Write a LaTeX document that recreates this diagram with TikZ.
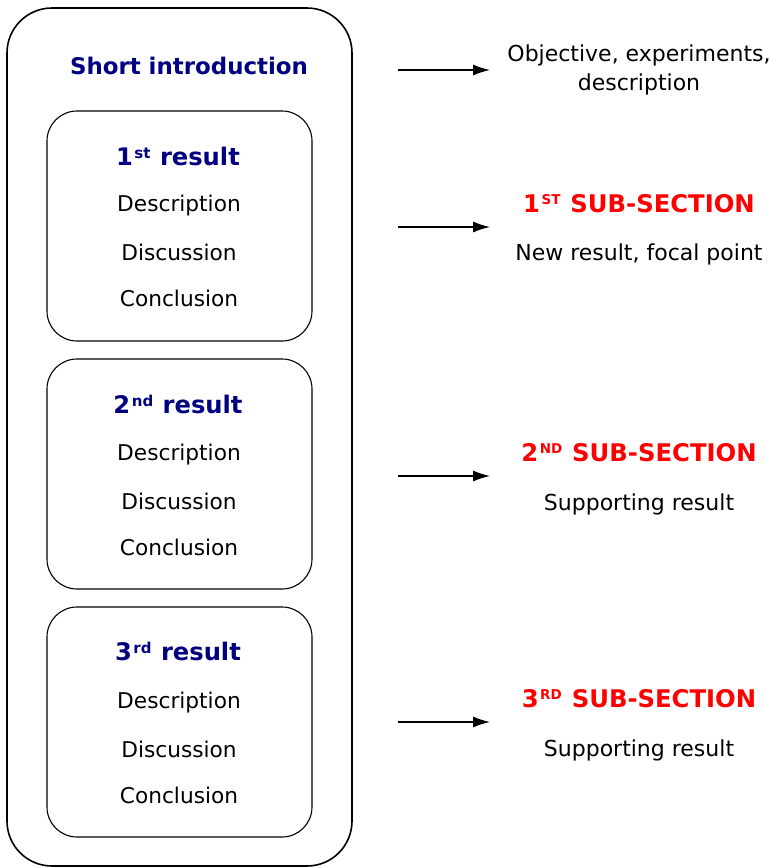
\documentclass[tikz,border=0pt]{standalone}
\usepackage{fontspec}
\setmainfont{DejaVu Sans}
\usetikzlibrary{arrows.meta}
\definecolor{navyt}{RGB}{0,0,128}
\definecolor{redt}{RGB}{255,0,0}
\newcommand{\supb}[1]{\hspace{1.5pt}\raisebox{6.3pt}{\fontsize{15}{15}\selectfont #1}\hspace{1pt}}
\newcommand{\supr}[1]{\hspace{1.5pt}\raisebox{8.2pt}{\fontsize{13.5}{13.5}\selectfont #1}\hspace{1.5pt}}
\begin{document}
\begin{tikzpicture}[x=1pt,y=-1pt,
  outerbox/.style={draw,line width=1.6pt,rounded corners=45pt},
  innerbox/.style={draw,line width=1.1pt,rounded corners=30pt},
  title/.style={font=\fontsize{22.9}{26}\selectfont\bfseries,text=navyt},
  rtitle/.style={font=\fontsize{24.2}{28}\selectfont\bfseries,text=navyt},
  item/.style={font=\fontsize{21.7}{24}\selectfont},
  sub/.style={font=\fontsize{24.3}{28}\selectfont\bfseries,text=redt},
  note/.style={font=\fontsize{22}{29}\selectfont,align=center},
  arr/.style={-{Latex[length=17pt,width=11pt]},line width=1.2pt}]
\useasboundingbox (0,0) rectangle (774,868);
\draw[outerbox] (7,8) rectangle (352,866);
\foreach \n/\t in {1/111,2/359,3/607}{
  \draw[innerbox] (47,\t) rectangle (312,\t+230);
}
\node[title] (intro) at (189,66) {Short introduction};
\node[rtitle] (r1) at (178,156) {1\supb{st} result};
\node[item] (d1) at (179,206) {Description};
\node[item] (s1) at (179,252) {Discussion};
\node[item] (c1) at (179,298) {Conclusion};
\node[rtitle] (r2) at (178,404) {2\supb{nd} result};
\node[item] (d2) at (179,455) {Description};
\node[item] (s2) at (179,501) {Discussion};
\node[item] (c2) at (179,547) {Conclusion};
\node[rtitle] (r3) at (178,651) {3\supb{rd} result};
\node[item] (d3) at (179,703) {Description};
\node[item] (s3) at (179,749) {Discussion};
\node[item] (c3) at (179,795) {Conclusion};

\coordinate (a0s) at (398,70); \coordinate (a0e) at (490,70);
\coordinate (a1s) at (398,227); \coordinate (a1e) at (490,227);
\coordinate (a2s) at (398,476); \coordinate (a2e) at (490,476);
\coordinate (a3s) at (398,722); \coordinate (a3e) at (490,722);
\foreach \i in {0,1,2,3}{\draw[arr] (a\i s) -- (a\i e);}

\node[note] (obj) at (639,70) {Objective, experiments,\\description};
\node[sub] (ss1) at (639,204) {1\supr{ST} SUB-SECTION};
\node[note] (n1) at (639,254) {New result, focal point};
\node[sub] (ss2) at (639,453) {2\supr{ND} SUB-SECTION};
\node[note] (n2) at (639,504) {Supporting result};
\node[sub] (ss3) at (639,699) {3\supr{RD} SUB-SECTION};
\node[note] (n3) at (639,750) {Supporting result};
\end{tikzpicture}
\end{document}
